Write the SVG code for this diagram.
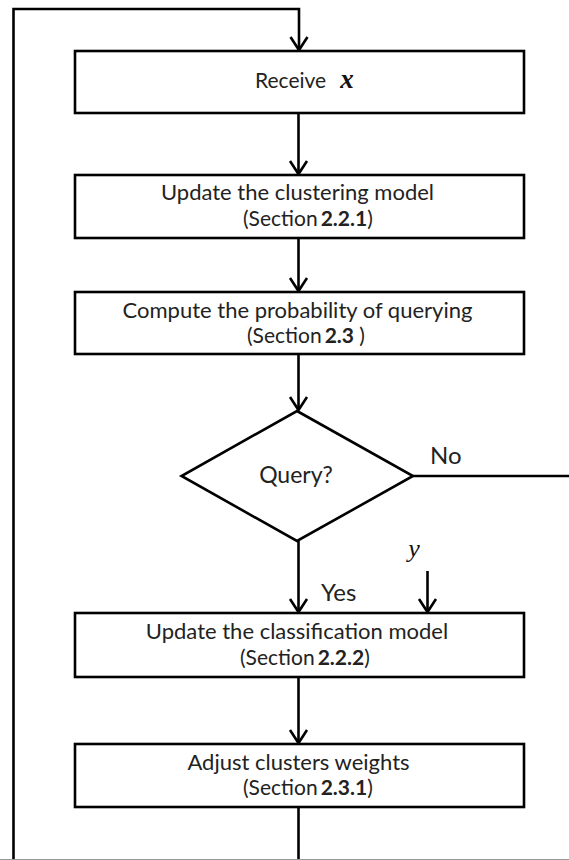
<svg xmlns="http://www.w3.org/2000/svg" width="569" height="860" viewBox="0 0 569 860">
<style>
.box{fill:#fff;stroke:#000;stroke-width:2.6}
.ln{fill:none;stroke:#000;stroke-width:2.6}
.t{font-family:Lato,"Open Sans",sans-serif;font-size:21px;fill:#222}
.h{font-size:22px}
.b{font-weight:bold}
.m{font-family:"Liberation Serif","DejaVu Serif",serif;font-style:italic;fill:#111}
</style>
<defs>
<marker id="arr" viewBox="-16 -11 19 22" refX="0" refY="0" markerWidth="19" markerHeight="22" orient="auto" markerUnits="userSpaceOnUse">
<path d="M-13,-8.5 L0,0 L-13,8.5" fill="none" stroke="#000" stroke-width="2.6"/>
</marker>
</defs>
<rect width="569" height="860" fill="#fff"/>
<g id="connectors">
<path class="ln" d="M13.5,860 V9 H299 V50" marker-end="url(#arr)"/>
<path class="ln" d="M298.5,113 V174" marker-end="url(#arr)"/>
<path class="ln" d="M298.5,238 V291" marker-end="url(#arr)"/>
<path class="ln" d="M298.5,354 V410" marker-end="url(#arr)"/>
<path class="ln" d="M413,476 H569"/>
<path class="ln" d="M298.5,541 V612" marker-end="url(#arr)"/>
<path class="ln" d="M427.5,571 V612" marker-end="url(#arr)"/>
<path class="ln" d="M298.5,677 V743" marker-end="url(#arr)"/>
<path class="ln" d="M298.5,807 V860"/>
<line x1="0" y1="859.5" x2="569" y2="859.5" stroke="#999" stroke-width="1"/>
<text class="t" x="430" y="464" style="font-size:24px">No</text>
<text class="t" x="321" y="601" style="font-size:24px">Yes</text>
<text class="m" x="414" y="557" style="font-size:26px" text-anchor="middle">y</text>
</g>
<g id="receive">
<rect class="box" x="75" y="51" width="449" height="62"/>
<text class="t" x="255" y="88">Receive<tspan class="m b" dx="14" style="font-size:27px">x</tspan></text>
</g>
<g id="cluster">
<rect class="box" x="75" y="175" width="449" height="63"/>
<text class="t h" x="297.5" y="200" text-anchor="middle">Update the clustering model</text>
<text class="t" x="243" y="226">(Section<tspan class="b" dx="3">2.2.1</tspan>)</text>
</g>
<g id="prob">
<rect class="box" x="75" y="292" width="449" height="62"/>
<text class="t h" x="297.5" y="318" text-anchor="middle">Compute the probability of querying</text>
<text class="t" x="247" y="343">(Section<tspan class="b" dx="3">2.3</tspan> )</text>
</g>
<g id="query">
<path class="box" d="M297,411 L413,476 L297,541 L181.5,476 Z"/>
<text class="t" x="296" y="483" style="font-size:23px" text-anchor="middle">Query?</text>
</g>
<g id="classify">
<rect class="box" x="75" y="613" width="449" height="64"/>
<text class="t h" x="297" y="639" text-anchor="middle">Update the classification model</text>
<text class="t" x="240" y="665">(Section<tspan class="b" dx="3">2.2.2</tspan>)</text>
</g>
<g id="adjust">
<rect class="box" x="75" y="744" width="449" height="63"/>
<text class="t h" x="298.5" y="770" text-anchor="middle">Adjust clusters weights</text>
<text class="t" x="243" y="795">(Section<tspan class="b" dx="3">2.3.1</tspan>)</text>
</g>
</svg>
